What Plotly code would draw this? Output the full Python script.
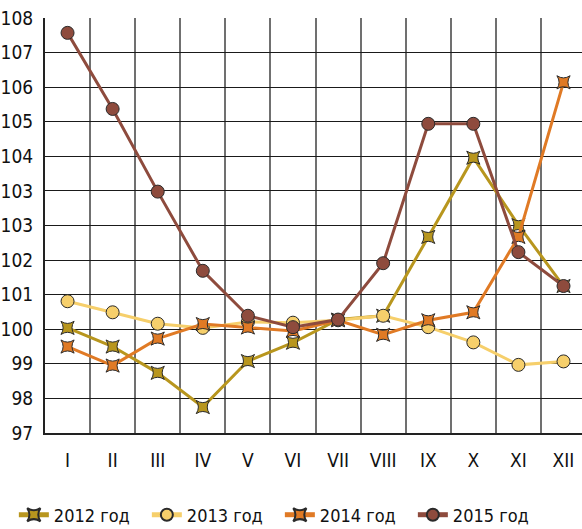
import plotly.graph_objects as go

months = ["I", "II", "III", "IV", "V", "VI", "VII", "VIII", "IX", "X", "XI", "XII"]
y_tick_vals = [97, 98, 99, 100, 101, 102, 103, 104, 105, 106, 107, 108, 109]
y_tick_text = ["97", "98", "99", "100", "101", "102", "103", "103", "104", "105", "106", "107", "108"]

s2012 = [100.04, 99.50, 98.74, 97.75, 99.08, 99.61, 100.28, 100.39, 102.67, 104.96, 103.01, 101.25]
s2013 = [100.81, 100.49, 100.16, 100.04, 100.21, 100.19, 100.26, 100.39, 100.06, 99.62, 98.97, 99.07]
s2014 = [99.50, 98.95, 99.73, 100.15, 100.05, 99.95, 100.26, 99.84, 100.26, 100.49, 102.67, 107.14]
s2015 = [108.57, 106.37, 103.98, 101.69, 100.39, 100.06, 100.28, 101.91, 105.94, 105.94, 102.23, 101.25]

names = ["2012 год", "2013 год", "2014 год", "2015 год"]
colors = ["#B8961E", "#F6CF6B", "#E07A25", "#8E4B3D"]
symbols = ["star-square", "circle", "star-square", "circle"]
series = [s2012, s2013, s2014, s2015]

FONT = "DejaVu Sans Condensed, sans-serif"

fig = go.Figure()
xs = list(range(1, 13))
for name, col, sym, vals in zip(names, colors, symbols, series):
    fig.add_trace(go.Scatter(
        x=xs, y=vals, name=name, mode="lines+markers",
        line=dict(color=col, width=3),
        marker=dict(symbol=sym, size=13 if sym == "circle" else 12, color=col,
                    line=dict(color="#2a2a2a", width=1)),
    ))

fig.update_layout(
    width=582, height=529,
    margin=dict(l=45, r=0, t=18, b=96, autoexpand=False),
    paper_bgcolor="white", plot_bgcolor="white",
    font=dict(family=FONT, size=19, color="#111"),
    showlegend=True,
    legend=dict(orientation="h", x=-0.058, xanchor="left", y=-0.1976, yanchor="middle",
                entrywidth=88, entrywidthmode="pixels", font=dict(size=18),
                bgcolor="rgba(0,0,0,0)", itemsizing="constant"),
    xaxis=dict(range=[0.5, 12.41], tickmode="array", tickvals=xs, ticktext=months,
               showgrid=False, zeroline=False, ticks="", ticklabelstandoff=9,
               showline=True, linecolor="#222", linewidth=2, automargin=False,
               minor=dict(tickmode="linear", tick0=0.5, dtick=1, showgrid=True,
                          gridcolor="#707070", gridwidth=1.8, ticks=""),
               tickfont=dict(size=19)),
    yaxis=dict(range=[97, 109], tickmode="array", tickvals=y_tick_vals, ticktext=y_tick_text,
               showgrid=True, gridcolor="#1a1a1a", gridwidth=1.2, zeroline=False,
               showline=True, linecolor="#222", linewidth=2, ticks="", automargin=False,
               ticklabelstandoff=6, tickfont=dict(size=19)),
)

fig.write_html("out.html", config={"displayModeBar": False},
               post_script="document.body.style.margin='0px';document.body.style.overflow='hidden';")
